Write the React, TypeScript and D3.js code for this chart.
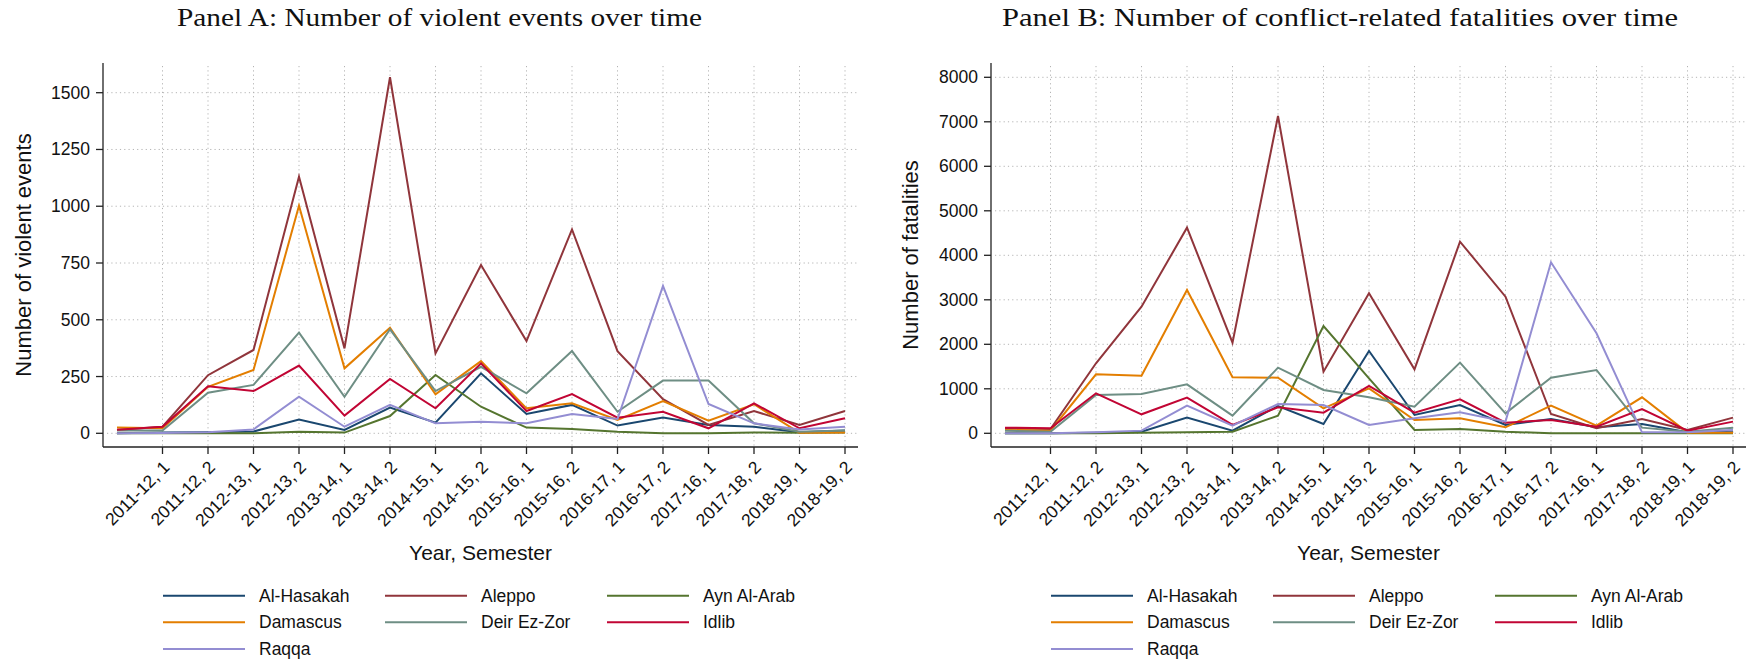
import React from "react";
import * as d3 from "d3";

const tickLabels = [
  "2011-12, 1", "2011-12, 2", "2012-13, 1", "2012-13, 2", "2013-14, 1", "2013-14, 2",
  "2014-15, 1", "2014-15, 2", "2015-16, 1", "2015-16, 2", "2016-17, 1", "2016-17, 2",
  "2017-16, 1", "2017-18, 2", "2018-19, 1", "2018-19, 2",
];
const periods = [0, 1, 2, 3, 4, 5, 6, 7, 8, 9, 10, 11, 12, 13, 14, 15, 16];
const tickPeriods = [1, 2, 3, 4, 5, 6, 7, 8, 9, 10, 11, 12, 13, 14, 15, 16];

const regions = ["Al-Hasakah", "Aleppo", "Ayn Al-Arab", "Damascus", "Deir Ez-Zor", "Idlib", "Raqqa"];
const colors = ["#1a476f", "#90353b", "#55752f", "#e37e00", "#6e8e84", "#c10534", "#938dd2"];

// Panel A: number of violent events
const evHasakah = [0, 3, 5, 8, 61, 15, 113, 47, 264, 85, 125, 34, 69, 37, 29, 5, 12];
const evAleppo = [15, 29, 256, 367, 1130, 374, 1568, 352, 741, 406, 898, 362, 150, 37, 98, 37, 98];
const evAyn = [0, 0, 0, 0, 7, 3, 76, 257, 117, 25, 19, 7, 0, 0, 4, 2, 3];
const evDamascus = [25, 22, 205, 279, 1002, 286, 465, 172, 318, 110, 132, 59, 142, 56, 128, 2, 3];
const evDeir = [12, 12, 179, 213, 443, 161, 458, 186, 293, 176, 362, 95, 232, 232, 44, 7, 12];
const evIdlib = [16, 29, 207, 186, 298, 78, 239, 110, 308, 98, 173, 69, 95, 22, 132, 22, 66];
const evRaqqa = [0, 1, 5, 17, 161, 29, 125, 44, 51, 44, 85, 63, 649, 129, 44, 17, 29];

// Panel B: number of fatalities
const faHasakah = [0, 0, 15, 37, 352, 60, 614, 209, 1850, 412, 636, 187, 322, 135, 209, 22, 60];
const faAleppo = [112, 97, 1573, 2846, 4621, 2037, 7131, 1385, 3146, 1438, 4307, 3071, 434, 112, 322, 75, 352];
const faAyn = [0, 0, 0, 15, 22, 37, 397, 2411, 1236, 75, 97, 37, 0, 0, 0, 0, 0];
const faDamascus = [75, 60, 1326, 1295, 3221, 1258, 1250, 562, 1011, 300, 337, 135, 621, 172, 809, 15, 15];
const faDeir = [60, 37, 861, 883, 1101, 397, 1475, 973, 809, 599, 1588, 449, 1250, 1423, 127, 37, 127];
const faIdlib = [126, 112, 899, 427, 801, 187, 584, 464, 1063, 464, 764, 239, 300, 150, 546, 60, 262];
const faRaqqa = [0, 0, 22, 60, 621, 172, 659, 636, 187, 337, 472, 262, 3843, 2247, 22, 22, 75];

const eventTicks = [0, 250, 500, 750, 1000, 1250, 1500];
const fatalTicks = [0, 1000, 2000, 3000, 4000, 5000, 6000, 7000, 8000];

const SANS = "'Liberation Sans', Arial, Helvetica, sans-serif";
const SERIF = "'Liberation Serif', 'Times New Roman', serif";

type PanelProps = {
  title: string;
  titleX: number;
  titleLen: number;
  yTitle: string;
  yTitleX: number;
  axisLeft: number;
  axisRight: number;
  xStart: number;
  xEnd: number;
  yMax: number;
  yMaxPx: number;
  yTicks: number[];
  series: number[][];
};

const AXIS_TOP = 63;
const AXIS_BOTTOM = 447;
const Y0 = 433.3;

function Panel(p: PanelProps) {
  const x = d3.scaleLinear().domain([0, 16]).range([p.xStart, p.xEnd]);
  const y = d3.scaleLinear().domain([0, p.yMax]).range([Y0, p.yMaxPx]);
  const line = d3
    .line<number>()
    .x((_, i) => x(periods[i]))
    .y((d) => y(d));
  const cx = (p.axisLeft + p.axisRight) / 2;
  const cy = (AXIS_TOP + AXIS_BOTTOM) / 2;
  const legendCols = [-317.5, -95.5, 126.5];
  const legendRows = [595.7, 622.3, 649];
  return (
    <g>
      <text
        x={p.titleX}
        y={26}
        textAnchor="middle"
        fontFamily={SERIF}
        fontSize={25.5}
        textLength={p.titleLen}
        lengthAdjust="spacingAndGlyphs"
        fill="#111"
      >
        {p.title}
      </text>
      {/* grid */}
      {p.yTicks.map((t) => (
        <line
          key={"gy" + t}
          x1={p.axisLeft + 4}
          x2={p.axisRight}
          y1={y(t)}
          y2={y(t)}
          stroke="#b4b4b4"
          strokeWidth={1}
          strokeDasharray="1.2 3.1"
        />
      ))}
      {tickPeriods.map((t) => (
        <line
          key={"gx" + t}
          x1={x(t)}
          x2={x(t)}
          y1={AXIS_TOP + 3}
          y2={AXIS_BOTTOM}
          stroke="#b4b4b4"
          strokeWidth={1}
          strokeDasharray="1.2 3.1"
        />
      ))}
      {/* series */}
      {p.series.map((s, i) => (
        <path key={regions[i]} d={line(s) || ""} fill="none" stroke={colors[i]} strokeWidth={2} strokeLinejoin="miter" />
      ))}
      {/* axes */}
      <line x1={p.axisLeft} x2={p.axisLeft} y1={AXIS_TOP} y2={AXIS_BOTTOM} stroke="#222" strokeWidth={1.3} />
      <line x1={p.axisLeft} x2={p.axisRight} y1={AXIS_BOTTOM} y2={AXIS_BOTTOM} stroke="#222" strokeWidth={1.3} />
      {p.yTicks.map((t) => (
        <g key={"yt" + t}>
          <line x1={p.axisLeft - 7} x2={p.axisLeft} y1={y(t)} y2={y(t)} stroke="#222" strokeWidth={1.3} />
          <text
            x={p.axisLeft - 13}
            y={y(t)}
            textAnchor="end"
            dominantBaseline="central"
            fontFamily={SANS}
            fontSize={17.5}
            fill="#111"
          >
            {t}
          </text>
        </g>
      ))}
      {tickPeriods.map((t, i) => (
        <g key={"xt" + t}>
          <line x1={x(t)} x2={x(t)} y1={AXIS_BOTTOM} y2={AXIS_BOTTOM + 7} stroke="#222" strokeWidth={1.3} />
          <text
            transform={`translate(${x(t) + 4},${AXIS_BOTTOM + 17}) rotate(-45)`}
            textAnchor="end"
            dominantBaseline="central"
            fontFamily={SANS}
            fontSize={17.5}
            fill="#111"
          >
            {tickLabels[i]}
          </text>
        </g>
      ))}
      <text
        transform={`translate(${p.yTitleX},${cy}) rotate(-90)`}
        textAnchor="middle"
        dominantBaseline="central"
        fontFamily={SANS}
        fontSize={22}
        fill="#111"
      >
        {p.yTitle}
      </text>
      <text x={cx} y={560} textAnchor="middle" fontFamily={SANS} fontSize={21} fill="#111">
        Year, Semester
      </text>
      {/* legend */}
      {regions.map((r, i) => {
        const lx = cx + legendCols[i % 3];
        const ly = legendRows[Math.floor(i / 3)];
        return (
          <g key={"lg" + r}>
            <line x1={lx} x2={lx + 82} y1={ly} y2={ly} stroke={colors[i]} strokeWidth={2} />
            <text x={lx + 96} y={ly} dominantBaseline="central" fontFamily={SANS} fontSize={17.5} fill="#111">
              {r}
            </text>
          </g>
        );
      })}
    </g>
  );
}

export default function App() {
  const eventsSeries = [evHasakah, evAleppo, evAyn, evDamascus, evDeir, evIdlib, evRaqqa];
  const fatalSeries = [faHasakah, faAleppo, faAyn, faDamascus, faDeir, faIdlib, faRaqqa];
  return (
    <svg
      width={1751}
      height={663}
      viewBox="0 0 1751 663"
      style={{ position: "absolute", left: 0, top: 0, background: "#fff" }}
    >
      <rect x={0} y={0} width={1751} height={663} fill="#fff" />
      <Panel
        title="Panel A: Number of violent events over time"
        titleX={439.5}
        titleLen={525}
        yTitle="Number of violent events"
        yTitleX={23}
        axisLeft={103}
        axisRight={858}
        xStart={117}
        xEnd={845}
        yMax={1500}
        yMaxPx={92.7}
        yTicks={eventTicks}
        series={eventsSeries}
      />
      <Panel
        title="Panel B: Number of conflict-related fatalities over time"
        titleX={1340}
        titleLen={676}
        yTitle="Number of fatalities"
        yTitleX={910.5}
        axisLeft={991}
        axisRight={1746}
        xStart={1005}
        xEnd={1733}
        yMax={8000}
        yMaxPx={77.3}
        yTicks={fatalTicks}
        series={fatalSeries}
      />
    </svg>
  );
}
